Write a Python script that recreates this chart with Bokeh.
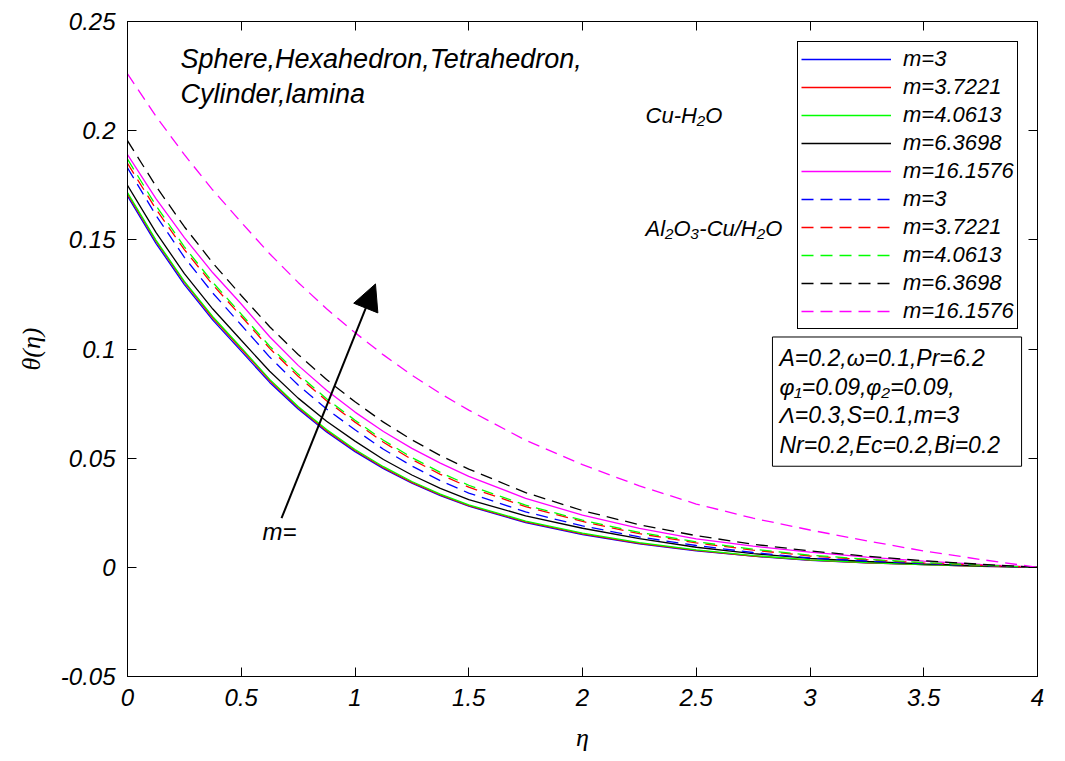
from bokeh.plotting import figure
from bokeh.models import (Legend, LegendItem, Label, Arrow, NormalHead, LinearAxis,
                          FixedTicker, BoxAnnotation, Range1d)
from bokeh.embed import file_html
from bokeh.resources import INLINE

eta = [0, 0.125, 0.25, 0.375, 0.5, 0.625, 0.75, 0.875, 1.0, 1.125, 1.25, 1.375, 1.5,
       1.75, 2.0, 2.25, 2.5, 2.75, 3.0, 3.25, 3.5, 3.75, 4.0]

# Cu-H2O (solid)
cu_m3  = [0.170, 0.1484, 0.1295, 0.1132, 0.099, 0.0847, 0.0725, 0.0620, 0.053, 0.0452, 0.0385, 0.0328, 0.028,
          0.0205, 0.015, 0.0108, 0.0076, 0.0051, 0.0032, 0.0021, 0.0012, 0.0005, 0]
cu_m37 = [0.171, 0.1494, 0.1305, 0.1142, 0.100, 0.0856, 0.0732, 0.0626, 0.0535, 0.0456, 0.0389, 0.0332, 0.0283,
          0.0208, 0.0153, 0.0110, 0.0078, 0.0052, 0.0033, 0.0021, 0.0012, 0.0005, 0]
cu_m40 = [0.1716, 0.1499, 0.131, 0.1148, 0.1006, 0.0861, 0.0737, 0.0631, 0.054, 0.0461, 0.0393, 0.0335, 0.0286,
          0.0212, 0.0157, 0.0113, 0.0080, 0.0054, 0.0034, 0.0022, 0.0013, 0.0006, 0]
cu_m63 = [0.175, 0.1534, 0.1345, 0.1183, 0.104, 0.0898, 0.0775, 0.0669, 0.0578, 0.0494, 0.0423, 0.0362, 0.031,
          0.0236, 0.0179, 0.0131, 0.0092, 0.0063, 0.0041, 0.0027, 0.0016, 0.0007, 0]
cu_m16 = [0.189, 0.1689, 0.151, 0.1349, 0.1206, 0.1056, 0.0925, 0.0811, 0.0711, 0.0622, 0.0545, 0.0477, 0.0417,
          0.0316, 0.0239, 0.0178, 0.0130, 0.0097, 0.0070, 0.0047, 0.0028, 0.0013, 0]
# Al2O3-Cu/H2O (dashed)
hy_m3  = [0.183, 0.1612, 0.142, 0.1256, 0.111, 0.0963, 0.0835, 0.0725, 0.063, 0.0541, 0.0464, 0.0397, 0.034,
          0.0254, 0.019, 0.0139, 0.0100, 0.0068, 0.0043, 0.0029, 0.0017, 0.0008, 0]
hy_m37 = [0.185, 0.1641, 0.1455, 0.1294, 0.115, 0.1003, 0.0875, 0.0763, 0.0665, 0.0573, 0.0494, 0.0426, 0.0367,
          0.0278, 0.021, 0.0154, 0.0112, 0.0079, 0.0052, 0.0035, 0.0020, 0.0009, 0]
hy_m40 = [0.187, 0.1657, 0.1468, 0.1305, 0.116, 0.1013, 0.0885, 0.0772, 0.0674, 0.0582, 0.0503, 0.0435, 0.0376,
          0.0285, 0.0216, 0.0160, 0.0117, 0.0083, 0.0056, 0.0037, 0.0022, 0.0010, 0]
hy_m63 = [0.1954, 0.1746, 0.156, 0.1394, 0.1245, 0.1102, 0.0975, 0.0860, 0.0758, 0.0665, 0.0584, 0.0512, 0.045,
          0.0342, 0.026, 0.0195, 0.0145, 0.0106, 0.0075, 0.0051, 0.0030, 0.0014, 0]
hy_m16 = [0.226, 0.2066, 0.189, 0.1728, 0.158, 0.1436, 0.1305, 0.1184, 0.1075, 0.0973, 0.088, 0.0796, 0.072,
          0.0582, 0.047, 0.0373, 0.029, 0.0225, 0.0171, 0.0121, 0.0075, 0.0036, 0]

labels = ["m=3", "m=3.7221", "m=4.0613", "m=6.3698", "m=16.1576",
          "m=3", "m=3.7221", "m=4.0613", "m=6.3698", "m=16.1576"]
series = [cu_m3, cu_m37, cu_m40, cu_m63, cu_m16, hy_m3, hy_m37, hy_m40, hy_m63, hy_m16]
colors = ["#0000ff", "#ff0000", "#00ff00", "#000000", "#ff00ff"] * 2
dashes = ["solid"] * 5 + ["12 7"] * 5

x_ticks = [0, 0.5, 1, 1.5, 2, 2.5, 3, 3.5, 4]
x_tick_labels = ["0", "0.5", "1", "1.5", "2", "2.5", "3", "3.5", "4"]
y_ticks = [-0.05, 0, 0.05, 0.1, 0.15, 0.2, 0.25]
y_tick_labels = ["-0.05", "0", "0.05", "0.1", "0.15", "0.2", "0.25"]

FONT = "Liberation Sans"

p = figure(width=1065, height=761, output_backend="svg", toolbar_location=None,
           x_range=Range1d(0, 4), y_range=Range1d(-0.05, 0.25),
           min_border_left=127, min_border_right=28, min_border_top=21, min_border_bottom=85)
p.background_fill_color = "white"
p.border_fill_color = "white"
p.outline_line_color = "black"
p.outline_line_width = 1
p.grid.visible = False

renderers = []
for ys, c, d in zip(series, colors, dashes):
    r = p.line(eta, ys, line_color=c, line_width=1.3, line_dash=d)
    renderers.append(r)

def style_axis(ax, show_labels=True):
    ax.major_tick_in = 9
    ax.major_tick_out = 0
    ax.minor_tick_line_color = None
    ax.axis_line_color = "black"
    ax.major_tick_line_color = "black"
    ax.major_label_text_font = FONT
    ax.major_label_text_font_style = "italic"
    ax.major_label_text_font_size = "24px"
    ax.major_label_text_color = "black"
    if not show_labels:
        ax.major_label_text_font_size = "0px"
        ax.major_label_text_alpha = 0

xax = p.xaxis[0]
yax = p.yaxis[0]
xax.ticker = FixedTicker(ticks=x_ticks)
yax.ticker = FixedTicker(ticks=y_ticks)
xax.major_label_overrides = {t: l for t, l in zip(x_ticks, x_tick_labels)}
yax.major_label_overrides = {t: l for t, l in zip(y_ticks, y_tick_labels)}
style_axis(xax)
style_axis(yax)
xax.major_label_standoff = 12
yax.major_label_standoff = 12
xax.axis_label = "η"
yax.axis_label = "θ(η)"
for ax in (xax, yax):
    ax.axis_label_text_font = "Liberation Serif"
    ax.axis_label_text_font_style = "italic"
    ax.axis_label_text_font_size = "26px"
    ax.axis_label_text_color = "black"
xax.axis_label_standoff = 14
yax.axis_label_standoff = 12

top_ax = LinearAxis(ticker=FixedTicker(ticks=x_ticks))
right_ax = LinearAxis(ticker=FixedTicker(ticks=y_ticks))
style_axis(top_ax, False)
style_axis(right_ax, False)
p.add_layout(top_ax, "above")
p.add_layout(right_ax, "right")

items = [LegendItem(label=l, renderers=[r]) for l, r in zip(labels, renderers)]
legend = Legend(items=items, location=(670, 347), orientation="vertical")
legend.label_text_font = FONT
legend.label_text_font_style = "italic"
legend.label_text_font_size = "22px"
legend.label_text_color = "black"
legend.glyph_width = 90
legend.glyph_height = 28
legend.label_height = 28
legend.spacing = 0
legend.padding = 3
legend.margin = 0
legend.label_standoff = 12
legend.border_line_color = "black"
legend.border_line_alpha = 1
legend.border_line_width = 1
legend.background_fill_color = "white"
legend.background_fill_alpha = 1
p.add_layout(legend, "center")

def add_label(x, y, text, size="20px", font=FONT):
    lab = Label(x=x, y=y, text=text, text_font=font, text_font_style="italic",
                text_font_size=size, text_baseline="middle", text_align="left",
                text_color="black")
    p.add_layout(lab)

add_label(0.233, 0.2330, "Sphere,Hexahedron,Tetrahedron,", "27px")
add_label(0.233, 0.2170, "Cylinder,lamina", "27px")
add_label(2.277, 0.2069, "Cu-H\u2082O", "22px")
add_label(2.277, 0.1550, "Al\u2082O\u2083-Cu/H\u2082O", "22px")

box = BoxAnnotation(left=2.835, right=3.930, top=0.1055, bottom=0.0463,
                    fill_color="white", fill_alpha=1, line_color="black", line_alpha=1, line_width=1)
p.add_layout(box)
add_label(2.866, 0.0959, "A=0.2,\u03c9=0.1,Pr=6.2", "23px")
add_label(2.866, 0.0826, "\u03c6\u2081=0.09,\u03c6\u2082=0.09,", "23px")
add_label(2.866, 0.0697, "\u039b=0.3,S=0.1,m=3", "23px")
add_label(2.866, 0.0560, "Nr=0.2,Ec=0.2,Bi=0.2", "23px")

arrow = Arrow(end=NormalHead(size=26, fill_color="black", line_color="black"),
              x_start=0.677, y_start=0.0225, x_end=1.090, y_end=0.1298,
              line_color="black", line_width=2)
p.add_layout(arrow)
add_label(0.593, 0.0165, "m=", "24px")

open("out.html", "w").write(file_html(p, INLINE))
